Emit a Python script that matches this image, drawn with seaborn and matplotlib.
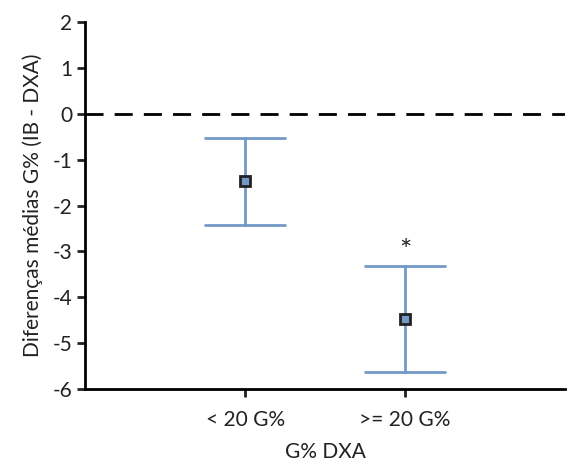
import matplotlib
matplotlib.use("Agg")
import matplotlib.pyplot as plt
import seaborn as sns
import pandas as pd

# data
groups = ["< 20 G%", ">= 20 G%"]
means = [-1.47, -4.47]
lower = [-2.43, -5.63]
upper = [-0.53, -3.32]
star_y = [None, -2.97]

sns.set_theme(style="ticks")
plt.rcParams['font.family'] = ['Lato', 'DejaVu Sans']
plt.rcParams['axes.unicode_minus'] = False

# long table: each group gets lower / mean / upper, median = mean, range = CI
rows = []
for g, lo, m, hi in zip(groups, lower, means, upper):
    for v in (lo, m, hi):
        rows.append({"grupo": g, "dif": v})
df = pd.DataFrame(rows)

fig = plt.figure(figsize=(5.68, 4.61), dpi=100)
ax = fig.add_axes([0.15, 0.156, 0.845, 0.796])

blue = "#7399c6"
sns.pointplot(data=df, x="grupo", y="dif", order=groups,
              estimator="median", errorbar=lambda x: (x.min(), x.max()),
              capsize=0.5, color=blue, linestyle="none", marker="s",
              markersize=6.5, markeredgecolor="#222222", markeredgewidth=2,
              err_kws={"linewidth": 2, "zorder": 1}, ax=ax, zorder=3)

ax.axhline(0, color="black", linewidth=2, linestyle=(0, (6.5, 4)), zorder=0)

for i, sy in enumerate(star_y):
    if sy is not None:
        ax.text(i, sy - 0.05, "*", ha="center", va="center", fontsize=21, color="#222222")

ax.set_ylim(-6, 2)
ax.set_xlim(-1.0, 2.0)
ax.set_yticks(range(-6, 3))
ax.set_xlabel("G% DXA", fontsize=15, color="#222222", labelpad=9)
ax.set_ylabel("Diferenças médias G% (IB - DXA)", fontsize=15, color="#222222", labelpad=7)
ax.tick_params(axis="both", labelsize=15, colors="#222222", width=2, length=6, direction="out")
ax.tick_params(axis="x", pad=9)
for s in ["left", "bottom"]:
    ax.spines[s].set_linewidth(2)
    ax.spines[s].set_color("black")
sns.despine(ax=ax)

fig.savefig("out.png", dpi=100)
